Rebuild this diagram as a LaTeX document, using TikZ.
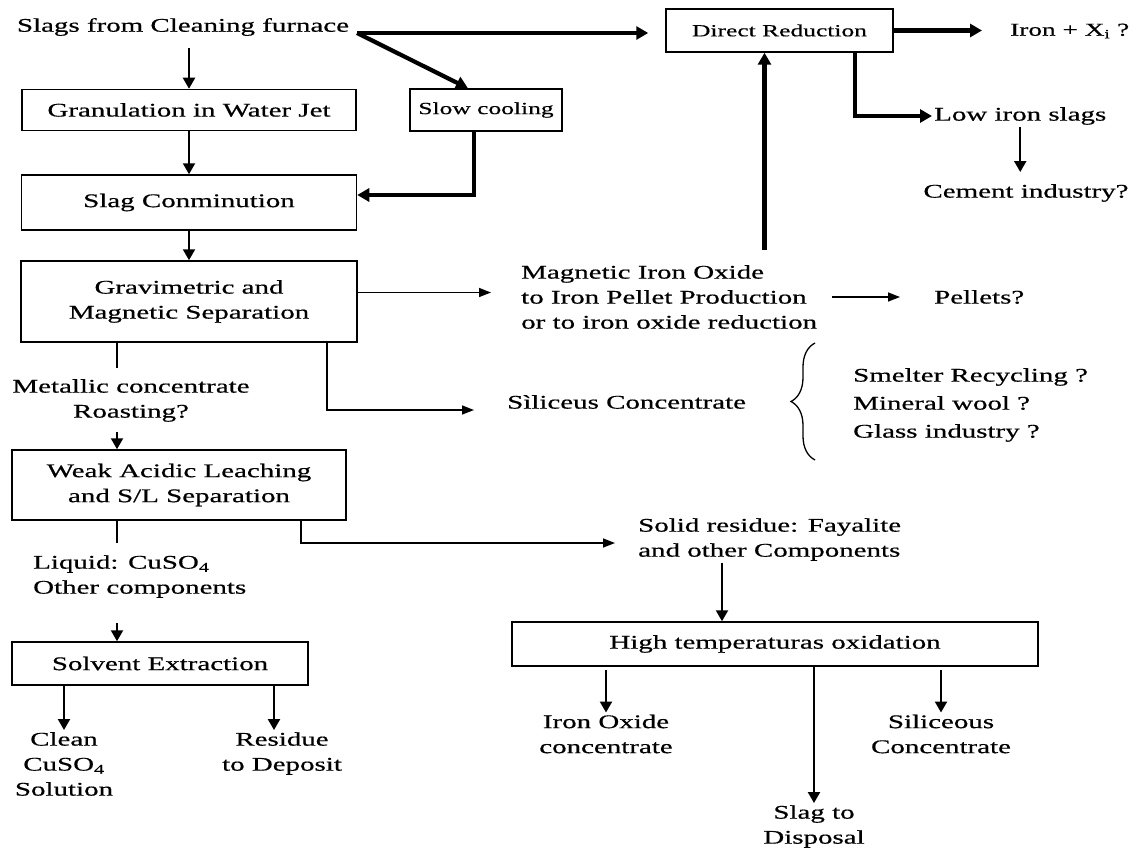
\documentclass[tikz,border=0pt]{standalone}
\usepackage{fontspec}
\setmainfont{Liberation Serif}[FakeStretch=1.5,FakeBold=0.5]
\usetikzlibrary{arrows.meta,decorations.pathreplacing,calc}
\begin{document}
\begin{tikzpicture}[x=1pt,y=-1pt,
  base/.style={font=\fontsize{19.3}{25}\selectfont, inner sep=2pt},
  pbox/.style={base, draw, line width=1.5pt, align=center},
  lbl/.style={base, align=center},
  lbll/.style={base, align=left, anchor=west},
  med/.style={line width=2.2pt, -{Triangle[length=11pt,width=12pt]}},
  thk/.style={line width=4.2pt, -{Triangle[length=12pt,width=13pt]}},
  thn/.style={line width=1.6pt, -{Triangle[length=12pt,width=9pt]}},
  plain/.style={line width=1.6pt},
]
\useasboundingbox[fill=white] (0,0) rectangle (1141,851);

% nodes
\node[lbl] (slags) at (183,27) {Slags from Cleaning furnace};
\node[pbox, minimum width=334pt, minimum height=41pt] (gran) at (189,110) {Granulation in Water Jet};
\node[pbox, minimum width=152pt, minimum height=42pt, font=\fontsize{17}{22}\selectfont] (slow) at (486,110) {Slow cooling};
\node[pbox, minimum width=335pt, minimum height=55pt] (conm) at (189,202.5) {Slag Conminution};
\node[pbox, minimum width=336pt, minimum height=81pt] (grav) at (189,301.5) {Gravimetric and\\Magnetic Separation};
\node[pbox, minimum width=227pt, minimum height=43pt, font=\fontsize{17}{22}\selectfont] (dr) at (779.5,30.5) {Direct Reduction};
\node[lbll, font=\fontsize{18.2}{24}\selectfont] (iron) at (1008,31) {Iron + X\textsubscript{i} ?};
\node[lbll] (low) at (932,116) {Low iron slags};
\node[lbl] (cement) at (1026,193) {Cement industry?};
\node[lbll] (mag) at (519,297) {Magnetic Iron Oxide\\to Iron Pellet Production\\or to iron oxide reduction};
\node[lbll] (pellets) at (932,297) {Pellets?};
\node[lbll] (silic) at (505,402) {Sìliceus Concentrate};
\node[lbll, font=\fontsize{19.3}{28}\selectfont] (uses) at (851,405) {Smelter Recycling ?\\Mineral wool ?\\Glass industry ?};
\node[lbl] (metal) at (131,400.5) {Metallic concentrate\\Roasting?};
\node[pbox, minimum width=334pt, minimum height=70pt] (weak) at (179,485) {Weak Acidic Leaching\\and S/L Separation};
\node[lbll] (liquid) at (31,576.5) {Liquid: CuSO\textsubscript{4}\\Other components};
\node[lbll] (solid) at (636,539.5) {Solid residue: Fayalite\\and other Components};
\node[pbox, minimum width=296pt, minimum height=43pt] (solv) at (160,663.5) {Solvent Extraction};
\node[lbl] (clean) at (64,764) {Clean\\CuSO\textsubscript{4}\\Solution};
\node[lbl] (residue) at (282,753.5) {Residue\\to Deposit};
\node[pbox, minimum width=526pt, minimum height=44pt] (ht) at (775,644) {High temperaturas oxidation};
\node[lbl] (ironox) at (606,734) {Iron Oxide\\concentrate};
\node[lbl] (silc2) at (941,734) {Siliceous\\Concentrate};
\node[lbl] (slagd) at (814,826.5) {Slag to\\Disposal};

% helper coordinates
\coordinate (sj) at (357,33);
\coordinate (drout) at ([xshift=75.5pt]dr.south);
\coordinate (drin) at ([xshift=-15pt]dr.south);
\coordinate (gm) at ([xshift=-72pt]grav.south);
\coordinate (gs) at ([xshift=138pt]grav.south);
\coordinate (wl) at ([xshift=-62pt]weak.south);
\coordinate (ws) at ([xshift=122pt]weak.south);
\coordinate (htin) at ([xshift=-53pt]ht.north);
\coordinate (resin) at ([xshift=-8pt]residue.north);

% top section
\draw[thk, shorten >=17pt] (sj) -- (sj -| dr.west);
\draw[thk] (sj) -- ([xshift=-18pt]slow.north);
\draw[med, shorten <=10pt] (gran.north |- slags.south) -- (gran.north);
\draw[med] (gran.south) -- (conm.north);
\draw[med] (conm.south) -- (grav.north);
\draw[thk] ([xshift=-12pt]slow.south) |- ([yshift=7.5pt]conm.east);
\draw[thk, shorten >=26pt] (dr.east) -- (dr.east -| iron.west);
\draw[thk] (drout) |- (low.west);
\draw[med, shorten >=10pt] (low.south) -- (low.south |- cement.north);
\draw[thk, shorten <=13pt] (drin |- mag.north) -- (drin);

% middle
\draw[thn, shorten >=28pt] ([yshift=9pt]grav.east) -- ([yshift=9pt]grav.east -| mag.west);
\draw[thn, shorten <=13pt, shorten >=32pt] (mag.east) -- (pellets.west);
\draw[plain, shorten >=9pt] (gm) -- (gm |- metal.north);
\draw[med, shorten <=8pt] (gm |- metal.south) -- (gm |- weak.north);
\draw[thn, shorten >=31pt] (gs) |- ([yshift=-8pt]silic.west);
\draw[line width=1.3pt, decorate, decoration={brace, amplitude=24pt}] (815,460) -- (815,343);

% lower
\draw[plain, shorten >=10pt] (wl) -- (wl |- liquid.north);
\draw[med, shorten <=23pt] (wl |- liquid.south) -- (wl |- solv.north);
\draw[thn, shorten >=21pt] (ws) |- ([yshift=-3.5pt]solid.west);
\draw[med] (htin |- solid.south) -- (htin);
\draw[med] (solv.south -| clean.north) -- (clean.north);
\draw[med] (resin |- solv.south) -- (resin);
\draw[med, shorten <=3pt] (ht.south -| ironox.north) -- (ironox.north);
\draw[med, shorten <=3pt] (ht.south -| silc2.north) -- (silc2.north);
\draw[med] (ht.south -| slagd.north) -- (slagd.north);
\end{tikzpicture}
\end{document}
